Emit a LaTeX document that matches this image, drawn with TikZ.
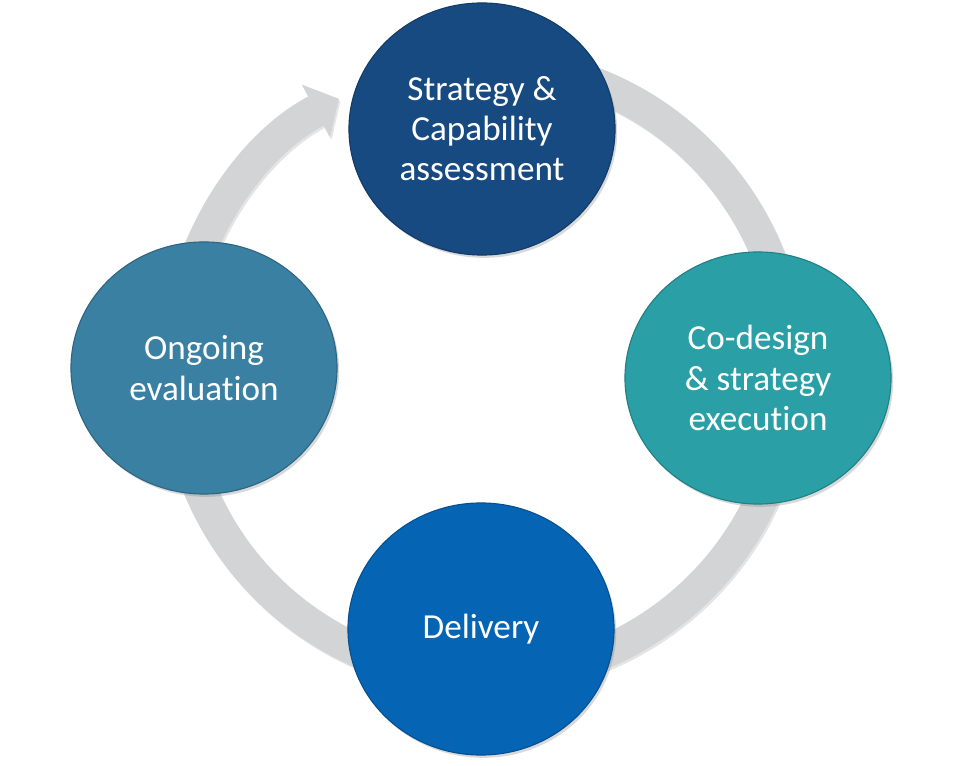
\documentclass[tikz,border=0pt]{standalone}
\usepackage{fontspec}
\setmainfont{Carlito}[Ligatures=NoCommon]
\usepackage{tikz}
\usetikzlibrary{arrows.meta, calc, shapes.geometric, shadows}
\definecolor{stratBlue}{RGB}{24,74,130}
\definecolor{codesignTeal}{RGB}{42,160,166}
\definecolor{deliveryBlue}{RGB}{6,100,180}
\definecolor{evalBlue}{RGB}{58,128,162}
\definecolor{ringGrey}{RGB}{211,212,214}

\begin{document}
\begin{tikzpicture}[
    x=0.025cm, y=0.025cm,
    stage/.style={ellipse, draw=#1!80!black, line width=0.8pt, fill=#1, text=white, minimum width=6.65cm, minimum height=6.3cm, inner sep=0pt, align=center, font=\fontsize{25}{28.5}\selectfont, drop shadow={shadow xshift=1.5pt, shadow yshift=-2pt, opacity=0.3}},
    ring/.style={ringGrey, line width=0.825cm, -{Triangle[length=0.65cm, width=1.5cm, line width=0pt]}}
]
\useasboundingbox (0,0) rectangle (960,-766);
\coordinate (hub) at (483,-370);
% faint shadow under the cycle arrow
\draw[ring, black, opacity=0.1, transform canvas={shift={(1.2pt,-1.5pt)}}] ($(hub)+(80:7.675cm)$) arc[start angle=80, end angle=-242, radius=7.675cm];
\draw[ring] ($(hub)+(80:7.675cm)$) arc[start angle=80, end angle=-242, radius=7.675cm];
\node[stage=stratBlue] (strat) at (482,-129) {Strategy \&\\ Capability\\ assessment};
\node[stage=codesignTeal] (codesign) at (758,-378) {Co-design\\ \& strategy\\ execution};
\node[stage=deliveryBlue] (delivery) at (481,-629) {Delivery};
\node[stage=evalBlue] (evaluation) at (204,-368) {Ongoing\\ evaluation};
\end{tikzpicture}
\end{document}
